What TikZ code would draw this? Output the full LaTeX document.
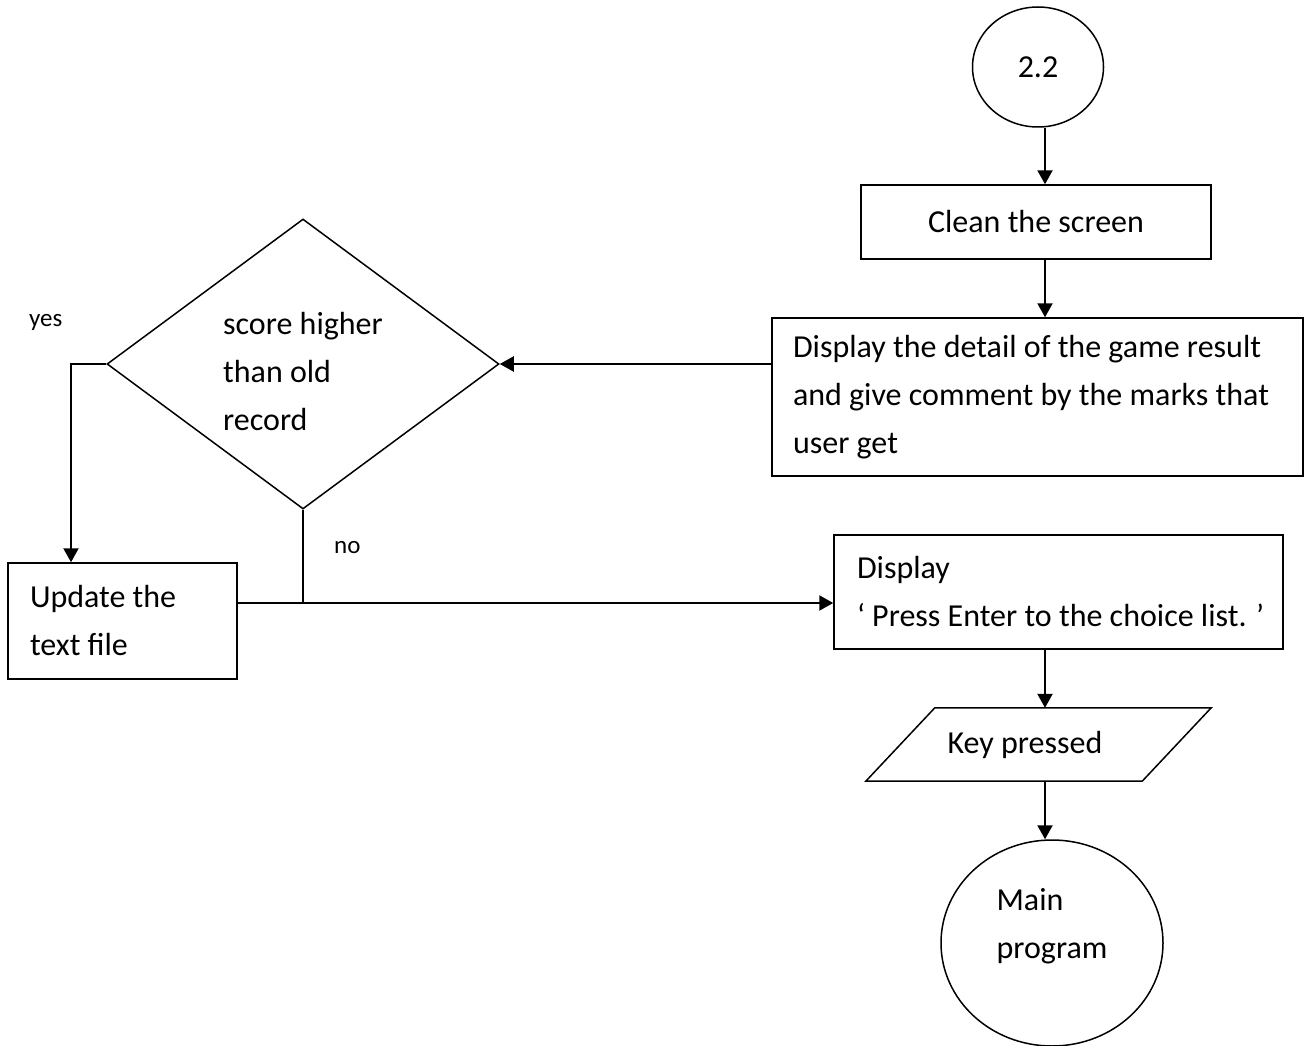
\documentclass[tikz,border=0pt]{standalone}
\usepackage{fontspec}
\setmainfont{Carlito}
\usetikzlibrary{shapes.geometric,arrows.meta,calc}
\begin{document}
\begin{tikzpicture}[x=1pt,y=-1pt,
  every node/.style={font=\fontsize{32}{48}\selectfont},
  box/.style={draw,line width=1.5pt,rectangle,inner sep=0pt},
  oval/.style={draw,ellipse,line width=1.5pt,inner sep=0pt},
  flow/.style={line width=2.2pt,-{Triangle[length=14pt,width=15pt]}},
  plain/.style={line width=2.2pt},
  lbl/.style={font=\fontsize{25}{28}\selectfont,inner sep=0pt,anchor=west}]
\useasboundingbox (0,0) rectangle (1309,1046);

% process blocks
\node[oval,minimum width=131pt,minimum height=120pt] (start) at (1038,67) {2.2};
\node[box,minimum width=350pt,minimum height=74pt] (clean) at (1036,222) {Clean the screen};
\node[box,minimum width=531pt,minimum height=158pt,text width=489pt,align=flush left] (detail) at (1037.5,397)
  {Display the detail of the game result\\and give comment by the marks that\\user get};
\node[draw,diamond,line width=1.5pt,minimum width=392pt,minimum height=290pt,aspect=1.35,
  inner sep=0pt,align=flush left,text height=134pt] (dec) at (303,364) {score higher\\than old\\record};
\node[box,minimum width=229pt,minimum height=116pt,text width=185pt,align=flush left] (upd) at (122.5,621)
  {Update the\\text file};
\node[box,minimum width=449pt,minimum height=114pt,text width=403pt,align=flush left] (disp) at (1058.5,592)
  {Display\\\mbox{‘ Press Enter to the choice list. ’}};
\node[minimum width=276pt,minimum height=73pt,inner sep=0pt] (key) at (1025,744.5) {Key pressed};
\draw[line width=1.5pt] ([xshift=48pt]key.north west) -- ([xshift=48pt]key.north east)
  -- ([xshift=-21pt]key.south east) -- ([xshift=-21pt]key.south west) -- cycle;
\node[oval,minimum width=222pt,minimum height=206pt,align=flush left,text depth=40pt] (main) at (1052,943)
  {Main\\program};

% branch labels
\node[lbl] (yes) at (29,322) {yes};
\node[lbl] (no) at (334,548) {no};

% connectors
\coordinate (spine) at (1045,0);
\coordinate (yesx) at (71,0);
\coordinate (noy) at (0,603);
\draw[flow] (spine |- start.south) -- (spine |- clean.north);
\draw[flow] (spine |- clean.south) -- (spine |- detail.north);
\draw[flow] (detail.west |- dec.east) -- (dec.east);
\draw[flow] (dec.west) -- (yesx |- dec.west) -- (yesx |- upd.north);
\draw[plain] (dec.south) -- (dec.south |- noy);
\draw[flow] (upd.east |- noy) -- (disp.west |- noy);
\draw[flow] (spine |- disp.south) -- (spine |- key.north);
\draw[flow] (spine |- key.south) -- (spine |- main.north);
\end{tikzpicture}
\end{document}
